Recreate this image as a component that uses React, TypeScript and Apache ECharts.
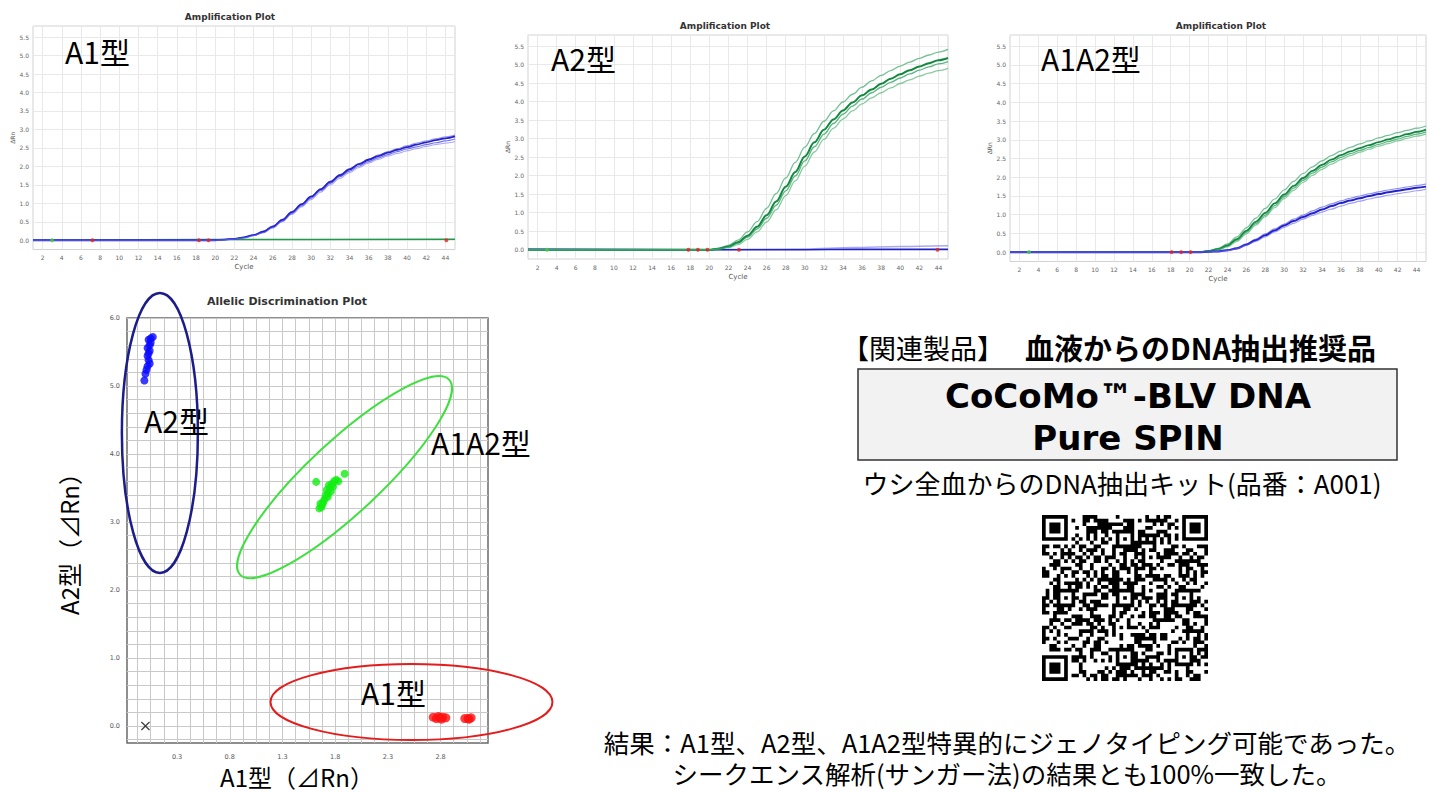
import React, { useEffect, useRef } from 'react';
import * as echarts from 'echarts';

// ---------- Amplification plot data (cycle vs ΔRn) ----------
const AMP_CYCLES_A = [1, 20, 21, 22, 23, 24, 25, 26, 27, 28, 29, 30, 31, 32, 33, 34, 35, 36, 37, 38, 39, 40, 41, 42, 43, 44, 45];
const AMP_CYCLES_B = [1, 21, 22, 23, 24, 25, 26, 27, 28, 29, 30, 31, 32, 33, 34, 35, 36, 37, 38, 39, 40, 41, 42, 43, 44, 45];

// A1 type plot: blue (A1 probe) bundle
const A1_BLUE_HI = [0, 0, 0.02, 0.04, 0.08, 0.15, 0.25, 0.39, 0.57, 0.78, 0.99, 1.2, 1.4, 1.6, 1.78, 1.94, 2.08, 2.2, 2.31, 2.4, 2.48, 2.56, 2.63, 2.69, 2.75, 2.8, 2.85];
const A1_BLUE_MID = [0, 0, 0.02, 0.04, 0.08, 0.14, 0.23, 0.37, 0.55, 0.76, 0.97, 1.18, 1.38, 1.58, 1.76, 1.92, 2.06, 2.18, 2.28, 2.37, 2.45, 2.52, 2.59, 2.65, 2.71, 2.76, 2.81];
const A1_BLUE_MID2 = [0, 0, 0.02, 0.04, 0.07, 0.13, 0.21, 0.35, 0.52, 0.73, 0.93, 1.14, 1.34, 1.54, 1.72, 1.87, 2.01, 2.13, 2.23, 2.32, 2.4, 2.47, 2.53, 2.59, 2.64, 2.69, 2.74];
const A1_BLUE_LO = [0, 0, 0.01, 0.03, 0.06, 0.12, 0.2, 0.33, 0.5, 0.7, 0.9, 1.1, 1.3, 1.5, 1.67, 1.83, 1.97, 2.09, 2.19, 2.28, 2.35, 2.42, 2.48, 2.54, 2.59, 2.63, 2.67];
const A1_GREEN_CYCLES = [1, 20, 45];
const A1_GREEN = [0.0, 0.02, 0.03];
const A1_GREEN_DOTS = [3];
const A1_RED_DOTS = [7.2, 18.3, 19.3, 44.1];

// A2 type plot: green (A2 probe) bundle
const A2_GREEN_HI = [0, 0, 0.04, 0.12, 0.26, 0.48, 0.76, 1.12, 1.52, 1.94, 2.36, 2.77, 3.14, 3.47, 3.75, 3.99, 4.2, 4.39, 4.56, 4.71, 4.84, 4.96, 5.07, 5.17, 5.26, 5.34, 5.41];
const A2_GREEN_MID = [0, 0, 0.03, 0.09, 0.2, 0.38, 0.62, 0.93, 1.3, 1.7, 2.1, 2.52, 2.9, 3.24, 3.52, 3.76, 3.98, 4.17, 4.33, 4.48, 4.62, 4.74, 4.85, 4.95, 5.04, 5.12, 5.18];
const A2_GREEN_MID2 = [0, 0, 0.03, 0.08, 0.18, 0.34, 0.56, 0.85, 1.2, 1.59, 1.99, 2.4, 2.78, 3.12, 3.41, 3.66, 3.88, 4.07, 4.24, 4.39, 4.52, 4.64, 4.75, 4.85, 4.94, 5.02, 5.08];
const A2_GREEN_LO = [0, 0, 0.02, 0.06, 0.14, 0.28, 0.48, 0.75, 1.08, 1.46, 1.86, 2.26, 2.64, 2.98, 3.28, 3.53, 3.75, 3.94, 4.1, 4.24, 4.37, 4.49, 4.59, 4.69, 4.77, 4.84, 4.9];
const A2_BLUE_CYCLES = [1, 20, 30, 35, 40, 45];
const A2_BLUE_DARK = [0.01, 0, 0.0, 0.01, 0.01, 0.01];
const A2_BLUE_LIGHT = [0.01, 0, 0.02, 0.06, 0.09, 0.11];
const A2_GREEN_DOTS = [3];
const A2_RED_DOTS = [17.8, 18.8, 19.8, 23.1, 43.9];

// A1A2 type plot: both bundles
const A3_GREEN_HI = [0, 0, 0.04, 0.1, 0.22, 0.41, 0.65, 0.91, 1.17, 1.42, 1.66, 1.89, 2.1, 2.28, 2.44, 2.58, 2.7, 2.8, 2.89, 2.97, 3.05, 3.12, 3.19, 3.25, 3.31, 3.37];
const A3_GREEN_MID = [0, 0, 0.03, 0.08, 0.18, 0.35, 0.57, 0.81, 1.05, 1.3, 1.54, 1.77, 1.98, 2.17, 2.33, 2.47, 2.59, 2.69, 2.78, 2.86, 2.94, 3.01, 3.08, 3.15, 3.21, 3.27];
const A3_GREEN_MID2 = [0, 0, 0.03, 0.07, 0.16, 0.32, 0.53, 0.76, 0.99, 1.24, 1.48, 1.71, 1.92, 2.11, 2.27, 2.41, 2.53, 2.63, 2.72, 2.8, 2.88, 2.95, 3.02, 3.09, 3.15, 3.21];
const A3_GREEN_LO = [0, 0, 0.02, 0.06, 0.14, 0.29, 0.49, 0.72, 0.95, 1.19, 1.43, 1.65, 1.86, 2.05, 2.21, 2.35, 2.47, 2.58, 2.67, 2.75, 2.83, 2.9, 2.97, 3.04, 3.1, 3.16];
const A3_BLUE_HI = [0, 0, 0.01, 0.03, 0.06, 0.12, 0.22, 0.35, 0.49, 0.62, 0.75, 0.88, 0.99, 1.1, 1.2, 1.29, 1.37, 1.44, 1.5, 1.56, 1.61, 1.66, 1.7, 1.74, 1.78, 1.82];
const A3_BLUE_MID = [0, 0, 0.01, 0.02, 0.05, 0.1, 0.2, 0.32, 0.45, 0.58, 0.71, 0.83, 0.94, 1.04, 1.14, 1.23, 1.31, 1.38, 1.44, 1.5, 1.55, 1.6, 1.64, 1.68, 1.72, 1.75];
const A3_BLUE_LO = [0, 0, 0.01, 0.02, 0.04, 0.09, 0.18, 0.29, 0.41, 0.54, 0.66, 0.77, 0.88, 0.98, 1.07, 1.15, 1.23, 1.3, 1.36, 1.42, 1.47, 1.52, 1.56, 1.6, 1.64, 1.68];
const A3_GREEN_DOTS = [3];
const A3_RED_DOTS = [18.1, 19.1, 20.1];

// ---------- Allelic discrimination data (A1 ΔRn, A2 ΔRn) ----------
const ALLELE_A2_X = [0.07, 0.05, 0.03, 0.05, 0.04, 0.02, 0.04, 0.03, 0.02, 0.03, 0.04, 0.02, 0.01, 0.0, -0.01];
const ALLELE_A2_Y = [5.72, 5.7, 5.68, 5.64, 5.6, 5.56, 5.52, 5.48, 5.44, 5.38, 5.33, 5.29, 5.24, 5.18, 5.08];
const ALLELE_A1A2_X = [1.62, 1.65, 1.67, 1.66, 1.69, 1.7, 1.71, 1.73, 1.72, 1.75, 1.74, 1.77, 1.79, 1.78, 1.81, 1.83, 1.89, 1.68, 1.73, 1.76];
const ALLELE_A1A2_Y = [3.59, 3.2, 3.22, 3.27, 3.3, 3.34, 3.39, 3.42, 3.47, 3.5, 3.54, 3.56, 3.6, 3.52, 3.62, 3.6, 3.71, 3.26, 3.37, 3.45];
const ALLELE_A1_X = [2.73, 2.76, 2.79, 2.82, 2.85, 2.78, 2.81, 3.03, 3.06, 3.09, 3.07];
const ALLELE_A1_Y = [0.13, 0.11, 0.12, 0.13, 0.12, 0.14, 0.1, 0.11, 0.11, 0.12, 0.1];
const NTC_X = [0];
const NTC_Y = [0];

// cluster ellipses: centre in data units, radii in px, rotation in degrees
const CLUSTER_ELLIPSES = [
  { cx: 0.137, cy: 4.31, rx: 38, ry: 140, rot: 0, color: '#1c1c8a', width: 2.5 },
  { cx: 1.889, cy: 3.66, rx: 143, ry: 36, rot: 43, color: '#3ee03e', width: 2 },
  { cx: 2.524, cy: 0.353, rx: 141, ry: 38, rot: 0, color: '#e41c1c', width: 2 },
];

const RESULT_LINES = [
  '結果：A1型、A2型、A1A2型特異的にジェノタイピング可能であった。',
  'シークエンス解析(サンガー法)の結果とも100%一致した。',
];

const FONT_JP = '"Noto Sans CJK JP", "Noto Sans", sans-serif';
const FONT_UI = '"DejaVu Sans", Verdana, sans-serif';
const T = 'rgba(0,0,0,0)';

function buildQrPath(): string {
  const n = 45;
  const m: number[][] = [];
  const fixed: boolean[][] = [];
  for (let r = 0; r < n; r++) {
    m.push(new Array(n).fill(0));
    fixed.push(new Array(n).fill(false));
  }
  const finder = (r0: number, c0: number) => {
    for (let r = -1; r <= 7; r++)
      for (let c = -1; c <= 7; c++) {
        const rr = r0 + r, cc = c0 + c;
        if (rr < 0 || cc < 0 || rr >= n || cc >= n) continue;
        fixed[rr][cc] = true;
        const ring = r >= 0 && r <= 6 && c >= 0 && c <= 6 && (r === 0 || r === 6 || c === 0 || c === 6);
        const core = r >= 2 && r <= 4 && c >= 2 && c <= 4;
        m[rr][cc] = ring || core ? 1 : 0;
      }
  };
  finder(0, 0);
  finder(0, n - 7);
  finder(n - 7, 0);
  for (let i = 8; i < n - 8; i++) {
    m[6][i] = i % 2 === 0 ? 1 : 0;
    fixed[6][i] = true;
    m[i][6] = i % 2 === 0 ? 1 : 0;
    fixed[i][6] = true;
  }
  const al = [[6, 22], [22, 6], [22, 22], [22, 38], [38, 22], [38, 38]];
  for (const [cr, cc] of al) {
    for (let r = -2; r <= 2; r++)
      for (let c = -2; c <= 2; c++) {
        fixed[cr + r][cc + c] = true;
        const ring = Math.abs(r) === 2 || Math.abs(c) === 2;
        m[cr + r][cc + c] = ring || (r === 0 && c === 0) ? 1 : 0;
      }
  }
  for (let r = 0; r < n; r++)
    for (let c = 0; c < n; c++) {
      if (fixed[r][c]) continue;
      let h = Math.imul(r * 73 + 11, 2654435761) ^ Math.imul(c * 151 + 7, 40503);
      h ^= h >>> 13;
      h = Math.imul(h, 1274126177);
      h ^= h >>> 16;
      m[r][c] = h & 1;
    }
  let d = '';
  for (let r = 0; r < n; r++) {
    let c = 0;
    while (c < n) {
      if (m[r][c]) {
        let e = c;
        while (e < n && m[r][e]) e++;
        const len = e - c;
        d += `M${c} ${r}h${len}v1h${-len}z`;
        c = e;
      } else c++;
    }
  }
  return d;
}

let qrRegistered = false;

function ampAxes(i: number, ymax: number) {
  const x = {
    type: 'value', gridIndex: i, min: 1, max: 45, interval: 1,
    axisLine: { show: false }, axisTick: { show: false },
    axisLabel: {
      fontSize: 6, color: '#666', margin: 5, fontFamily: FONT_UI,
      formatter: (v: number) => (Math.round(v) % 2 === 0 ? String(Math.round(v)) : ''),
    },
    splitLine: { show: true, lineStyle: { color: [T, '#e9e9e9'], width: 1 } },
    name: 'Cycle', nameLocation: 'middle', nameGap: 14,
    nameTextStyle: { fontSize: 7, color: '#555', fontFamily: FONT_UI },
  };
  const y = {
    type: 'value', gridIndex: i, min: -0.25, max: ymax, interval: 0.25,
    axisLine: { show: false }, axisTick: { show: false },
    axisLabel: {
      fontSize: 6, color: '#666', margin: 4, fontFamily: FONT_UI,
      formatter: (v: number) => {
        const t = v * 2;
        return Math.abs(t - Math.round(t)) < 1e-6 && v > -0.01 ? v.toFixed(1) : '';
      },
    },
    splitLine: { show: true, lineStyle: { color: [T, '#e9e9e9'], width: 1 } },
    name: 'ΔRn', nameLocation: 'middle', nameRotate: 90, nameGap: 18,
    nameTextStyle: { fontSize: 6, color: '#555', fontFamily: FONT_UI },
  };
  return { x, y };
}

const BLUE_COLORS = ['rgba(80,80,240,0.65)', '#2222c8', 'rgba(60,60,225,0.7)', 'rgba(110,110,245,0.65)'];
const GREEN_COLORS = ['rgba(40,160,90,0.65)', '#10883e', 'rgba(30,150,80,0.7)', 'rgba(70,175,110,0.65)'];
const WIDTHS = [1, 1.8, 1.2, 1];

function bundle(cycles: number[], curves: number[][], grid: number, colors: string[], widths: number[], z = 3) {
  return curves.map((vals, k) => ({
    type: 'line', xAxisIndex: grid, yAxisIndex: grid, symbol: 'none', smooth: 0.35, smoothMonotone: 'x',
    silent: true, z,
    lineStyle: { color: colors[k], width: widths[k] },
    data: cycles.map((c, i) => [c, vals[i]]),
  }));
}

function dots(xs: number[], grid: number, color: string) {
  return {
    type: 'scatter', xAxisIndex: grid, yAxisIndex: grid, symbolSize: 4, silent: true, z: 6,
    itemStyle: { color },
    data: xs.map((x) => [x, 0]),
  };
}

function scatter(xs: number[], ys: number[], color: string, size: number, symbol = 'circle') {
  return {
    type: 'scatter', xAxisIndex: 3, yAxisIndex: 3, symbol, symbolSize: size, silent: true, z: 5,
    itemStyle: { color },
    data: xs.map((x, i) => [x, ys[i]]),
  };
}

function txt(text: string, x: number, y: number, size: number, opts: any = {}) {
  const align = opts.align || 'left';
  return {
    type: 'text', x, y, z: 20, rotation: opts.rotation || 0,
    style: {
      text, fill: opts.color || '#000', fontSize: size, fontFamily: opts.family || FONT_JP,
      fontWeight: opts.weight || 'normal', lineHeight: opts.lineHeight || undefined,
      align, textAlign: align, verticalAlign: 'middle', textVerticalAlign: 'middle',
    },
  };
}

export default function App() {
  const ref = useRef<HTMLDivElement>(null);
  useEffect(() => {
    if (!ref.current) return;
    if (!qrRegistered) {
      echarts.graphic.registerShape('qrcode', echarts.graphic.extendPath(buildQrPath(), {}) as any);
      qrRegistered = true;
    }
    const chart = echarts.init(ref.current, null, { renderer: 'svg' });
    const a1 = ampAxes(0, 5.8);
    const a2 = ampAxes(1, 5.8);
    const a3 = ampAxes(2, 5.8);

    const option: any = {
      animation: false,
      backgroundColor: '#fff',
      grid: [
        { left: 33, top: 26, width: 422, height: 223.5, show: true, borderColor: '#d2d2d2', borderWidth: 1 },
        { left: 528, top: 35, width: 420, height: 224, show: true, borderColor: '#d2d2d2', borderWidth: 1 },
        { left: 1010, top: 35, width: 424, height: 226.5, show: true, borderColor: '#d2d2d2', borderWidth: 1 },
        { left: 127, top: 318, width: 361, height: 425, show: true, borderColor: '#6a6a6a', borderWidth: 1.5 },
      ],
      xAxis: [
        a1.x, a2.x, a3.x,
        {
          type: 'value', gridIndex: 3, min: -0.175, max: 3.25, interval: 0.025,
          axisLine: { show: false }, axisTick: { show: false },
          axisLabel: {
            fontSize: 6.5, color: '#555', margin: 10, fontFamily: FONT_UI,
            formatter: (v: number) => {
              const q = (v - 0.3) / 0.5;
              return Math.abs(q - Math.round(q)) < 1e-6 && v > 0 ? v.toFixed(1) : '';
            },
          },
          splitLine: { show: true, lineStyle: { color: [T, T, T, T, '#c9c9c9'], width: 1 } },
        },
      ],
      yAxis: [
        a1.y, a2.y, a3.y,
        {
          type: 'value', gridIndex: 3, min: -0.25, max: 6, interval: 0.05,
          axisLine: { show: false }, axisTick: { show: false },
          axisLabel: {
            fontSize: 6.5, color: '#555', margin: 7, fontFamily: FONT_UI,
            formatter: (v: number) => (Math.abs(v - Math.round(v)) < 1e-6 && v > -0.01 ? v.toFixed(1) : ''),
          },
          splitLine: { show: true, lineStyle: { color: [T, '#c9c9c9', T, T], width: 1 } },
        },
      ],
      series: [
        // A1 plot
        ...bundle(A1_GREEN_CYCLES, [A1_GREEN], 0, ['#1e9a4a'], [1.5], 2),
        ...bundle(AMP_CYCLES_A, [A1_BLUE_HI, A1_BLUE_MID, A1_BLUE_MID2, A1_BLUE_LO], 0, BLUE_COLORS, WIDTHS),
        dots(A1_GREEN_DOTS, 0, '#44cc44'),
        dots(A1_RED_DOTS, 0, '#e02424'),
        // A2 plot
        ...bundle(A2_BLUE_CYCLES, [A2_BLUE_LIGHT, A2_BLUE_DARK], 1, ['rgba(110,110,245,0.6)', '#2222c0'], [1.5, 1.6], 2),
        ...bundle(AMP_CYCLES_A, [A2_GREEN_HI, A2_GREEN_MID, A2_GREEN_MID2, A2_GREEN_LO], 1, GREEN_COLORS, [1.3, 2, 1.4, 1.3]),
        dots(A2_GREEN_DOTS, 1, '#44cc44'),
        dots(A2_RED_DOTS, 1, '#e02424'),
        // A1A2 plot
        ...bundle(AMP_CYCLES_B, [A3_GREEN_HI, A3_GREEN_MID, A3_GREEN_MID2, A3_GREEN_LO], 2, GREEN_COLORS, [1.2, 1.8, 1.3, 1.2]),
        ...bundle(AMP_CYCLES_B, [A3_BLUE_HI, A3_BLUE_MID, A3_BLUE_LO], 2, [BLUE_COLORS[0], BLUE_COLORS[1], BLUE_COLORS[3]], [1.2, 2, 1.2], 4),
        dots(A3_GREEN_DOTS, 2, '#44cc44'),
        dots(A3_RED_DOTS, 2, '#e02424'),
        // allelic discrimination
        scatter(ALLELE_A2_X, ALLELE_A2_Y, '#0a0aff', 8),
        scatter(ALLELE_A1A2_X, ALLELE_A1A2_Y, '#11ee11', 8),
        scatter(ALLELE_A1_X, ALLELE_A1_Y, '#ff1010', 9),
        scatter(NTC_X, NTC_Y, '#111', 9, 'path://M0,1L1,0L5,4L9,0L10,1L6,5L10,9L9,10L5,6L1,10L0,9L4,5Z'),
      ],
    };
    chart.setOption(option);

    const ellipses = CLUSTER_ELLIPSES.map((e) => {
      const p = chart.convertToPixel({ gridIndex: 3 } as any, [e.cx, e.cy]) as number[];
      return {
        type: 'ellipse', x: p[0], y: p[1], rotation: (e.rot * Math.PI) / 180, z: 15,
        shape: { cx: 0, cy: 0, rx: e.rx, ry: e.ry },
        style: { fill: 'none', stroke: e.color, lineWidth: e.width },
      };
    });

    const qrSize = 166;
    const graphics: any[] = [
      txt('Amplification Plot', 230, 17, 9, { family: FONT_UI, weight: 'bold', align: 'center', color: '#333' }),
      txt('Amplification Plot', 725, 26, 9, { family: FONT_UI, weight: 'bold', align: 'center', color: '#333' }),
      txt('Amplification Plot', 1221, 26, 9, { family: FONT_UI, weight: 'bold', align: 'center', color: '#333' }),
      txt('A1型', 65, 51, 30),
      txt('A2型', 551, 58, 30),
      txt('A1A2型', 1041, 58, 30),
      txt('Allelic Discrimination Plot', 287, 301, 11, { family: FONT_UI, weight: 'bold', align: 'center', color: '#333' }),
      txt('A2型', 144, 420, 30),
      txt('A1A2型', 431, 442, 30),
      txt('A1型', 361, 692, 30),
      txt('A2型（⊿Rn）', 68, 538, 24, { align: 'center', rotation: Math.PI / 2 }),
      txt('A1型（⊿Rn）', 297, 776, 24, { align: 'center', lineHeight: 22 }),
      ...ellipses,
      // related product block
      txt('【関連製品】', 842, 347, 27),
      txt('血液からのDNA抽出推奨品', 1376, 347, 29, { align: 'right', weight: 'bold' }),
      {
        type: 'rect', z: 10,
        shape: { x: 858, y: 369, width: 539, height: 91 },
        style: { fill: '#f2f2f2', stroke: '#333', lineWidth: 1.5 },
      },
      txt('CoCoMo™-BLV DNA', 1128, 396, 34, { family: FONT_UI, weight: 'bold', align: 'center' }),
      txt('Pure SPIN', 1128, 438, 34, { family: FONT_UI, weight: 'bold', align: 'center' }),
      txt('ウシ全血からのDNA抽出キット(品番：A001)', 1122, 482, 26, { align: 'center', lineHeight: 24 }),
      {
        type: 'qrcode', x: 1042, y: 515, scaleX: qrSize / 45, scaleY: qrSize / 45, z: 10,
        style: { fill: '#000' },
      },
      txt(RESULT_LINES.join('\n'), 1007, 757, 25.5, { align: 'center', lineHeight: 31 }),
    ];
    chart.setOption({ graphic: { elements: graphics } });

    return () => chart.dispose();
  }, []);

  return (
    <div
      ref={ref}
      style={{ position: 'fixed', left: 0, top: 0, width: 1429, height: 792, background: '#fff' }}
    />
  );
}
